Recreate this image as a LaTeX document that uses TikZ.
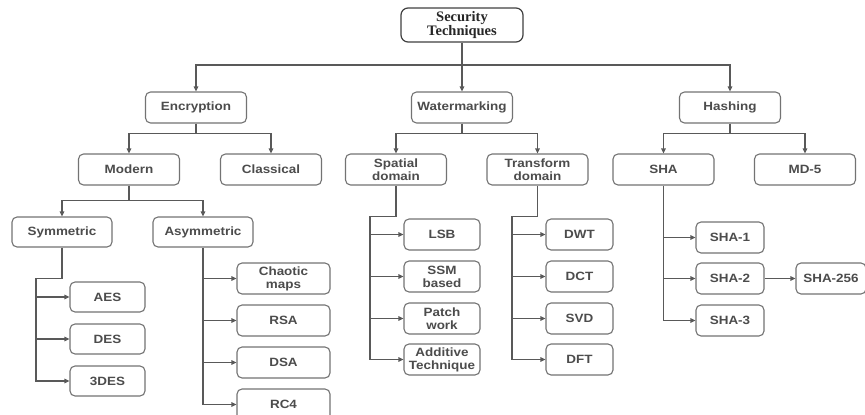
\documentclass[tikz,border=0pt]{standalone}
\usepackage{fontspec}
\setmainfont{Liberation Sans}
\newfontfamily\boxfont[FakeStretch=1.12]{Liberation Sans}
\newfontfamily\rootfont{Liberation Serif}
\usetikzlibrary{arrows.meta}
\begin{document}
\begin{tikzpicture}[x=1pt,y=-1pt,
  box/.style={draw=black!55, line width=1.1pt, rounded corners=5pt, fill=white,
    align=center, inner sep=0pt, text=black!70,
    font=\boxfont\fontsize{12}{13}\selectfont\bfseries},
  wide/.style={box, minimum width=101pt, minimum height=31pt},
  conn/.style={draw=black!65, line width=1.1pt},
  arr/.style={conn, -{Stealth[length=5pt,width=4.5pt,inset=0pt]}}
]
\useasboundingbox (0,0) rectangle (865,415);

% root
\node[draw=black!75, line width=1.2pt, rounded corners=7pt, fill=white,
  minimum width=122pt, minimum height=34pt, inner sep=0pt, align=center,
  text=black!85, font=\rootfont\bfseries\fontsize{14.5}{13.5}\selectfont] (root) at (462,25)
  {Security\\Techniques};

% level 1
\node[wide] (enc)  at (196,107.5) {Encryption};
\node[wide] (wat)  at (462,107.5) {Watermarking};
\node[wide] (hash) at (730,107.5) {Hashing};

% level 2
\node[wide] (modern)    at (129,169.5) {Modern};
\node[wide] (classical) at (271,169.5) {Classical};
\node[wide] (spatial)   at (396,169.5) {Spatial\\domain};
\node[wide] (transform) at (537.5,169.5) {Transform\\domain};
\node[wide] (sha)       at (663.5,169.5) {SHA};
\node[wide] (md5)       at (805,169.5) {MD-5};

% level 3
\node[box, minimum width=100pt, minimum height=30pt] (sym)  at (62,232) {Symmetric};
\node[box, minimum width=100pt, minimum height=30pt] (asym) at (203,232) {Asymmetric};

% symmetric leaves
\node[box, minimum width=75pt, minimum height=30pt] (aes)  at (107.5,297) {AES};
\node[box, minimum width=75pt, minimum height=30pt] (des)  at (107.5,339) {DES};
\node[box, minimum width=75pt, minimum height=30pt] (tdes) at (107.5,381) {3DES};

% asymmetric leaves
\node[box, minimum width=93pt, minimum height=31pt] (chaotic) at (283.5,278.5) {Chaotic\\maps};
\node[box, minimum width=93pt, minimum height=31pt] (rsa)     at (283.5,320.5) {RSA};
\node[box, minimum width=93pt, minimum height=31pt] (dsa)     at (283.5,362.5) {DSA};
\node[box, minimum width=93pt, minimum height=31pt] (rcf)     at (283.5,404.5) {RC4};

% spatial leaves
\node[box, minimum width=76pt, minimum height=31pt] (lsb)      at (442,234.5) {LSB};
\node[box, minimum width=76pt, minimum height=31pt] (ssm)      at (442,276.5) {SSM\\based};
\node[box, minimum width=76pt, minimum height=31pt] (patch)    at (442,318.5) {Patch\\work};
\node[box, minimum width=76pt, minimum height=31pt] (additive) at (442,359.5) {Additive\\Technique};

% transform leaves
\node[box, minimum width=67pt, minimum height=31pt] (dwt) at (579.5,234.5) {DWT};
\node[box, minimum width=67pt, minimum height=31pt] (dct) at (579.5,276.5) {DCT};
\node[box, minimum width=67pt, minimum height=31pt] (svd) at (579.5,318.5) {SVD};
\node[box, minimum width=67pt, minimum height=31pt] (dft) at (579.5,359.5) {DFT};

% SHA leaves
\node[box, minimum width=68pt, minimum height=31pt] (shaone)   at (730,237.5) {SHA-1};
\node[box, minimum width=68pt, minimum height=31pt] (shatwo)   at (730,278.5) {SHA-2};
\node[box, minimum width=68pt, minimum height=31pt] (shathree) at (730,320.5) {SHA-3};
\node[box, minimum width=70pt, minimum height=31pt] (shalong)  at (831,278.5) {SHA-256};

% connectors: root
\coordinate (hb) at (462,65);
\draw[arr] (root.south) -- (wat.north);
\draw[arr] (hb) -| (enc.north);
\draw[arr] (hb) -| (hash.north);

% level 1 -> level 2
\draw[arr] (enc.south) -- ++(0,10) -| (modern.north);
\draw[arr] (enc.south) -- ++(0,10) -| (classical.north);
\draw[arr] (wat.south) -- ++(0,10) -| (spatial.north);
\draw[arr] (wat.south) -- ++(0,10) -| (transform.north);
\draw[arr] (hash.south) -- ++(0,10) -| (sha.north);
\draw[arr] (hash.south) -- ++(0,10) -| (md5.north);

% modern -> sym/asym
\draw[arr] (modern.south) -- ++(0,15) -| (sym.north);
\draw[arr] (modern.south) -- ++(0,15) -| (asym.north);

% symmetric trunk
\coordinate (st) at (36,0);
\draw[arr] (sym.south) -- ++(0,31) -- ++(-26,0) |- (tdes.west);
\draw[arr] (aes.west -| st) -- (aes.west);
\draw[arr] (des.west -| st) -- (des.west);

% asymmetric trunk
\draw[arr] (asym.south) |- (rcf.west);
\draw[arr] (chaotic.west -| asym.south) -- (chaotic.west);
\draw[arr] (rsa.west -| asym.south) -- (rsa.west);
\draw[arr] (dsa.west -| asym.south) -- (dsa.west);

% spatial trunk
\coordinate (sp) at (370,0);
\draw[arr] (spatial.south) -- ++(0,31) -- ++(-26,0) |- (additive.west);
\draw[arr] (lsb.west -| sp) -- (lsb.west);
\draw[arr] (ssm.west -| sp) -- (ssm.west);
\draw[arr] (patch.west -| sp) -- (patch.west);

% transform trunk
\coordinate (tp) at (512,0);
\draw[arr] (transform.south) -- ++(0,31) -- ++(-25.5,0) |- (dft.west);
\draw[arr] (dwt.west -| tp) -- (dwt.west);
\draw[arr] (dct.west -| tp) -- (dct.west);
\draw[arr] (svd.west -| tp) -- (svd.west);

% SHA trunk
\draw[arr] (sha.south) |- (shathree.west);
\draw[arr] (shaone.west -| sha.south) -- (shaone.west);
\draw[arr] (shatwo.west -| sha.south) -- (shatwo.west);
\draw[arr] (shatwo.east) -- (shalong.west);
\end{tikzpicture}
\end{document}
